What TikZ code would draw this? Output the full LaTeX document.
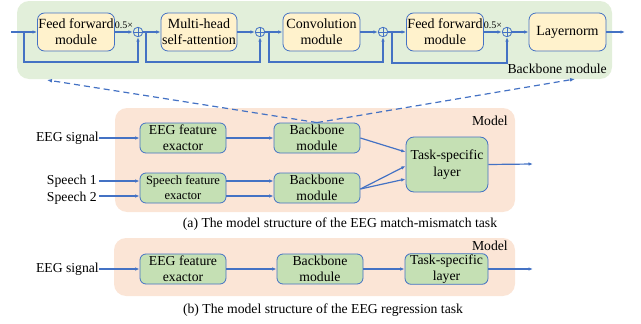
\documentclass[tikz,border=0pt]{standalone}
\usepackage{fontspec}
\setmainfont{Liberation Serif}
\usetikzlibrary{arrows.meta,calc}
\definecolor{lblue}{HTML}{4472C4}
\definecolor{bggreen}{HTML}{E2EFDA}
\definecolor{boxyellow}{HTML}{FFF2CC}
\definecolor{peach}{HTML}{FBE5D6}
\definecolor{boxgreen}{HTML}{C5E0B4}
\tikzset{
  conn/.style={draw=lblue, line width=1.2pt, -{Latex[length=4.5pt,width=3.5pt]}},
  ybox/.style={draw=lblue, line width=0.8pt, fill=boxyellow, rounded corners=7pt, align=center, inner sep=1pt,
    minimum width=76pt, minimum height=38pt, font=\fontsize{14}{16}\selectfont},
  gbox/.style={draw=lblue, line width=0.8pt, fill=boxgreen, rounded corners=6pt, align=center, inner sep=1pt,
    minimum width=86pt, minimum height=30pt, font=\fontsize{13.7}{16}\selectfont},
  addop/.style={circle, draw=lblue, line width=0.8pt, minimum size=9.5pt, inner sep=0pt,
    path picture={\draw[lblue, line width=0.8pt] (path picture bounding box.north) -- (path picture bounding box.south)
      (path picture bounding box.west) -- (path picture bounding box.east);}},
  lbl/.style={font=\fontsize{13.7}{16}\selectfont, inner sep=0pt},
  small/.style={font=\fontsize{10}{12}\selectfont, inner sep=0pt},
  dasharrow/.style={draw=lblue, line width=1.2pt, dash pattern=on 6pt off 4pt, -{Latex[length=5pt,width=4pt]}}
}
\begin{document}
\begin{tikzpicture}[x=1pt,y=-1pt]
\useasboundingbox (0,0) rectangle (641,324);
% backgrounds
\fill[bggreen, rounded corners=12pt] (17,1) rectangle (612,79);
\fill[peach, rounded corners=12pt] (115,108) rectangle (515,212);
\fill[peach, rounded corners=12pt] (114,238) rectangle (515,296);

% top row: backbone module
\node[ybox] (ff1) at (76,32) {Feed forward\\module};
\node[addop] (p1) at (138,32) {};
\node[ybox] (mh) at (199,32) {Multi-head\\self-attention};
\node[addop] (p2) at (260,32) {};
\node[ybox, minimum width=77pt] (conv) at (321.5,32) {Convolution\\module};
\node[addop] (p3) at (383,32) {};
\node[ybox] (ff2) at (445,32) {Feed forward\\module};
\node[addop] (p4) at (507,32) {};
\node[ybox, minimum width=77pt] (ln) at (567.5,32) {Layernorm};
\node[small] (h1) at (124,25) {0.5×};
\node[small] (h2) at (493,25) {0.5×};
\node[lbl, anchor=east] (bbl) at (607,69) {Backbone module};

\coordinate (in0) at (11,32);
\coordinate (out0) at (625,32);
\coordinate (b0) at (24,32);
\coordinate (b1) at (146,32);
\coordinate (b2) at (269,32);
\coordinate (b3) at (392,32);

\draw[conn] (in0) -- (ff1);
\draw[conn] (ff1) -- (p1);
\draw[conn] (p1) -- (mh);
\draw[conn] (mh) -- (p2);
\draw[conn] (p2) -- (conv);
\draw[conn] (conv) -- (p3);
\draw[conn] (p3) -- (ff2);
\draw[conn] (ff2) -- (p4);
\draw[conn] (p4) -- (ln);
\draw[conn] (ln) -- (out0);
\draw[conn] (b0) -- ++(0,30) -| (p1);
\draw[conn] (b1) -- ++(0,30) -| (p2);
\draw[conn] (b2) -- ++(0,30) -| (p3);
\draw[conn] (b3) -- ++(0,31) -| (p4);

% (a) match-mismatch
\node[gbox] (eegA) at (183,138) {EEG feature\\exactor};
\node[gbox] (bbA1) at (317,138) {Backbone\\module};
\node[gbox, font=\fontsize{12.5}{15}\selectfont] (spA) at (183,188) {Speech feature\\exactor};
\node[gbox] (bbA2) at (317,188) {Backbone\\module};
\node[gbox, minimum width=82pt, minimum height=55pt, rounded corners=8pt, font=\fontsize{13.7}{17}\selectfont] (taskA) at (447,164.5) {Task-specific\\layer};
\node[lbl, anchor=east] (eegsA) at (99,138) {EEG signal};
\node[lbl, anchor=east] (s1) at (97,181) {Speech 1};
\node[lbl, anchor=east] (s2) at (97,198) {Speech 2};
\node[lbl, anchor=east] (modA) at (508,121) {Model};
\node[lbl] (capA) at (340,224) {(a) The model structure of the EEG match-mismatch task};
\coordinate (outA) at (533,164);

\draw[conn] (eegsA) -- (eegA);
\draw[conn] (s1.east) ++(2,0) coordinate (s1e) -- (s1e -| spA.west);
\draw[conn] (s2.east) ++(2,-2) coordinate (s2e) -- (s2e -| spA.west);
\draw[conn] (eegA) -- (bbA1);
\draw[conn] (spA.east |- s1e) -- (bbA2.west |- s1e);
\draw[conn] (spA.east |- s2e) -- (bbA2.west |- s2e);
\draw[conn] (bbA1.east) -- (taskA.west |- 0,152);
\draw[conn] ($(bbA2.east)+(0,1)$) -- (taskA.west |- 0,166);
\draw[conn] ($(bbA2.east)+(0,1)$) -- (taskA.west |- 0,179);
\draw[conn] (taskA.east) -- (outA);

% dashed zoom arrows
\draw[dasharrow] (bbA1.north) -- (47,80);
\draw[dasharrow] (bbA1.north) -- (575,79);

% (b) regression
\node[gbox] (eegB) at (183,269) {EEG feature\\exactor};
\node[gbox] (bbB) at (320,269) {Backbone\\module};
\node[gbox, minimum width=83pt] (taskB) at (446.5,269) {Task-specific\\layer};
\node[lbl, anchor=east] (eegsB) at (99,269) {EEG signal};
\node[lbl, anchor=east] (modB) at (508,246) {Model};
\node[lbl] (capB) at (323,310) {(b) The model structure of the EEG regression task};
\coordinate (outB) at (533,269);

\draw[conn] (eegsB) -- (eegB);
\draw[conn] (eegB) -- (bbB);
\draw[conn] (bbB) -- (taskB);
\draw[conn] (taskB) -- (outB);
\end{tikzpicture}
\end{document}
